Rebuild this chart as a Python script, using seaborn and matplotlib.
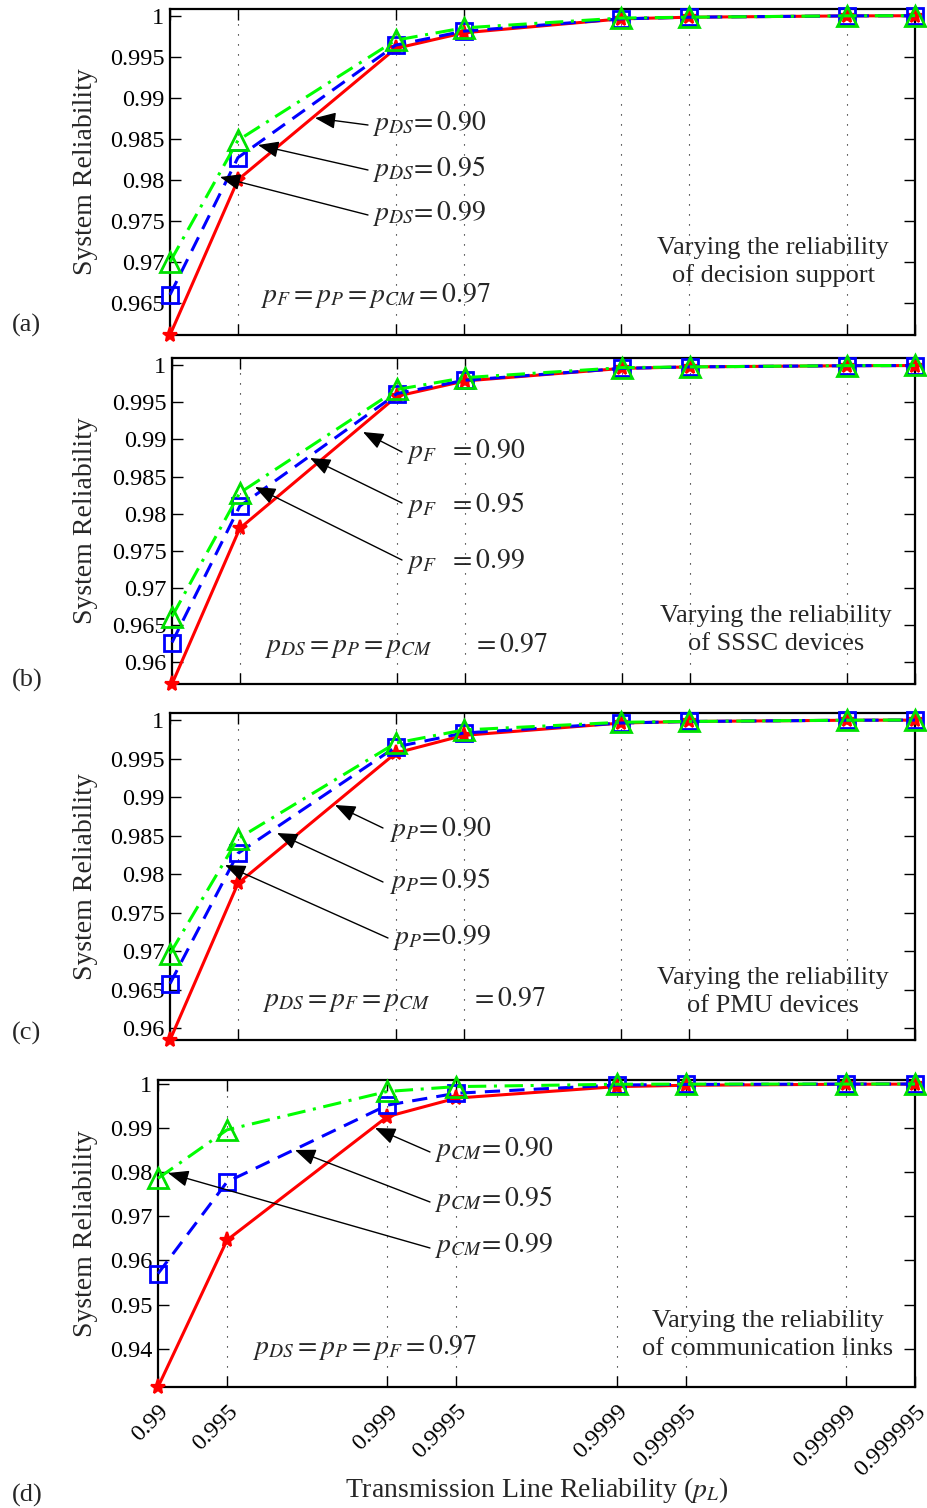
import numpy as np
import matplotlib
matplotlib.use("Agg")
import matplotlib.pyplot as plt
import seaborn as sns

# transmission line reliability (x axis)
p_line = [0.99, 0.995, 0.999, 0.9995, 0.9999, 0.99995, 0.99999, 0.999995]
tick_labels = ["0.99", "0.995", "0.999", "0.9995", "0.9999", "0.99995", "0.99999", "0.999995"]

# (a) varying decision support reliability
a_090 = [0.9611, 0.9800, 0.9960, 0.9979, 0.9996, 0.9998, 0.99996, 0.99998]
a_095 = [0.9660, 0.9827, 0.9964, 0.9981, 0.9996, 0.9998, 0.99996, 0.99998]
a_099 = [0.9700, 0.9848, 0.9970, 0.9985, 0.9997, 0.9998, 0.99997, 0.99999]

# (b) varying SSSC devices reliability
b_090 = [0.9570, 0.9780, 0.99585, 0.9979, 0.9996, 0.9998, 0.99996, 0.99998]
b_095 = [0.9626, 0.9810, 0.9962, 0.9980, 0.9996, 0.9998, 0.99996, 0.99998]
b_099 = [0.9661, 0.9828, 0.99675, 0.99835, 0.9997, 0.9998, 0.99997, 0.99999]

# (c) varying PMU devices reliability
c_090 = [0.9585, 0.9788, 0.9957, 0.9980, 0.9996, 0.9998, 0.99996, 0.99998]
c_095 = [0.9658, 0.9827, 0.9965, 0.9983, 0.9996, 0.9998, 0.99996, 0.99998]
c_099 = [0.9697, 0.9846, 0.9970, 0.9987, 0.9997, 0.9998, 0.99997, 0.99999]

# (d) varying communication links reliability
d_090 = [0.9313, 0.9646, 0.9926, 0.9968, 0.9994, 0.9997, 0.99994, 0.99997]
d_095 = [0.9570, 0.9778, 0.9952, 0.9979, 0.99976, 0.9999, 0.99998, 0.99999]
d_099 = [0.9786, 0.9896, 0.9983, 0.9994, 0.99994, 0.99997, 0.99999, 1.0]

sns.set_style("ticks")
plt.rcParams["font.family"] = ["Liberation Serif", "DejaVu Serif"]
plt.rcParams["mathtext.fontset"] = "stix"

W, H = 927, 1508
fig = plt.figure(figsize=(W / 100, H / 100), dpi=100)


def fwd(p):
    p = np.clip(np.asarray(p, dtype=float), 0.0, 1 - 1e-9)
    return -np.log10(1 - p)


def inv(t):
    return 1 - 10 ** (-np.asarray(t, dtype=float))


# pixel boxes of each panel: left, top, right, bottom
boxes = [(170, 9, 915, 335), (172, 358, 915, 684), (170, 713, 915, 1040), (158, 1080, 915, 1387)]
ylims = [(0.9611, 1.0008), (0.9570, 1.0010), (0.9585, 1.0009), (0.9313, 1.0009)]
yticks = [np.arange(0.965, 1.0001, 0.005), np.arange(0.96, 1.0001, 0.005),
          np.arange(0.96, 1.0001, 0.005), np.arange(0.94, 1.0001, 0.01)]
ytick_text = [["0.965", "0.97", "0.975", "0.98", "0.985", "0.99", "0.995", "1"],
              ["0.96", "0.965", "0.97", "0.975", "0.98", "0.985", "0.99", "0.995", "1"],
              ["0.96", "0.965", "0.97", "0.975", "0.98", "0.985", "0.99", "0.995", "1"],
              ["0.94", "0.95", "0.96", "0.97", "0.98", "0.99", "1"]]
series = [(a_090, a_095, a_099), (b_090, b_095, b_099), (c_090, c_095, c_099), (d_090, d_095, d_099)]
letters = ["(a)", "(b)", "(c)", "(d)"]
letter_y = [325, 680, 1033, 1495]
captions = ["Varying the reliability\nof decision support",
            "Varying the reliability\nof SSSC devices",
            "Varying the reliability\nof PMU devices",
            "Varying the reliability\nof communication links"]
caption_xy = [(773, 262), (776, 630), (773, 992), (768, 1335)]
fixed_text = [r"$p_F = p_P = p_{CM} = 0.97$",
              r"$p_{DS} = p_P = p_{CM}$      $= 0.97$",
              r"$p_{DS} = p_F = p_{CM}$      $= 0.97$",
              r"$p_{DS} = p_P = p_F = 0.97$"]
fixed_xy = [(260, 295), (264, 646), (262, 1000), (252, 1348)]

# annotation labels and arrows (text left/center, tail, head) in image pixels
ann = [
    [(r"$p_{DS}\!= 0.90$", (372, 124), (368, 125), (315, 118)),
     (r"$p_{DS}\!= 0.95$", (372, 169), (368, 170), (258, 145)),
     (r"$p_{DS}\!= 0.99$", (372, 214), (368, 215), (220, 177))],
    [(r"$p_F\ \ = 0.90$", (406, 452), (402, 452), (363, 432)),
     (r"$p_F\ \ = 0.95$", (406, 505), (402, 503), (310, 458)),
     (r"$p_F\ \ = 0.99$", (406, 561), (402, 560), (255, 487))],
    [(r"$p_P\!= 0.90$", (389, 829), (383, 828), (335, 805)),
     (r"$p_P\!= 0.95$", (389, 881), (383, 882), (277, 833)),
     (r"$p_P\!=\!0.99$", (392, 937), (388, 938), (225, 865))],
    [(r"$p_{CM}\!= 0.90$", (434, 1150), (430, 1152), (375, 1128)),
     (r"$p_{CM}\!= 0.95$", (434, 1199), (430, 1202), (295, 1150)),
     (r"$p_{CM}\!= 0.99$", (434, 1246), (430, 1248), (168, 1173))],
]

for i, (l, t, r, b) in enumerate(boxes):
    ax = fig.add_axes([l / W, 1 - b / H, (r - l) / W, (b - t) / H])
    ax.set_xscale("function", functions=(fwd, inv))
    s90, s95, s99 = series[i]
    sns.lineplot(x=p_line, y=s90, ax=ax, color="#ff0000", linewidth=2.2, linestyle="-",
                 marker="*", markersize=11, markeredgewidth=1.6, markeredgecolor="#ff0000",
                 sort=False, zorder=3)
    sns.lineplot(x=p_line, y=s95, ax=ax, color="#0000ff", linewidth=2.2, linestyle=(0, (5, 3)),
                 marker="s", markersize=12, markerfacecolor="none", markeredgecolor="#0000ff",
                 markeredgewidth=2.0, sort=False, zorder=4)
    sns.lineplot(x=p_line, y=s99, ax=ax, color="#00ff00", linewidth=2.2, linestyle=(0, (6, 2.5, 1, 2.5)),
                 marker="^", markersize=14, markerfacecolor="none", markeredgecolor="#00e000",
                 markeredgewidth=2.0, sort=False, zorder=5)
    for c in (0, 1, 2):
        ax.lines[c].set_clip_on(False)
    ax.set_xlim(p_line[0], p_line[-1])
    ax.set_ylim(*ylims[i])
    ax.set_yticks(yticks[i])
    ax.set_yticklabels(ytick_text[i])
    ax.set_xticks(p_line)
    ax.xaxis.set_minor_locator(matplotlib.ticker.NullLocator())
    for xv in p_line[1:-1]:
        ax.axvline(xv, color="black", linewidth=0.8, linestyle=(0, (1, 8)), zorder=1)
    ax.tick_params(direction="in", length=8, width=1, top=True, right=True,
                   labelsize=17.5, pad=4, colors="black")
    for sp in ax.spines.values():
        sp.set_linewidth(1.6)
        sp.set_color("black")
    if i < 3:
        ax.set_xticklabels([])
    else:
        ax.set_xticklabels(tick_labels, rotation=45, ha="right", va="top",
                           rotation_mode="anchor", fontsize=17.5)
        ax.tick_params(axis="x", pad=10)
    ax.set_xlabel("")
    ax.set_ylabel("")

    def fr(px, py, l=l, t=t, r=r, b=b):
        return ((px - l) / (r - l), (b - py) / (b - t))

    for txt, txy, tail, head in ann[i]:
        ax.text(*fr(*txy), txt, transform=ax.transAxes, fontsize=20, ha="left", va="center")
        ax.annotate("", xy=fr(*head), xycoords="axes fraction",
                    xytext=fr(*tail), textcoords="axes fraction",
                    arrowprops=dict(arrowstyle="-|>,head_length=0.7,head_width=0.28",
                                    color="black", lw=1.0, mutation_scale=18,
                                    shrinkA=0, shrinkB=0), zorder=6)
    ax.text(*fr(*fixed_xy[i]), fixed_text[i], transform=ax.transAxes, fontsize=20,
            ha="left", va="center")
    ax.text(*fr(*caption_xy[i]), captions[i], transform=ax.transAxes, fontsize=19,
            ha="center", va="center", linespacing=1.3)

    fig.text(86 / W, 1 - ((t + b) / 2) / H, "System Reliability", rotation=90,
             ha="center", va="center", fontsize=20)
    fig.text(12 / W, 1 - letter_y[i] / H, letters[i], ha="left", va="center", fontsize=19)

fig.text(537 / W, 1 - 1490 / H, r"Transmission Line Reliability ($p_L$)",
         ha="center", va="center", fontsize=20)

fig.savefig("out.png", dpi=100)
